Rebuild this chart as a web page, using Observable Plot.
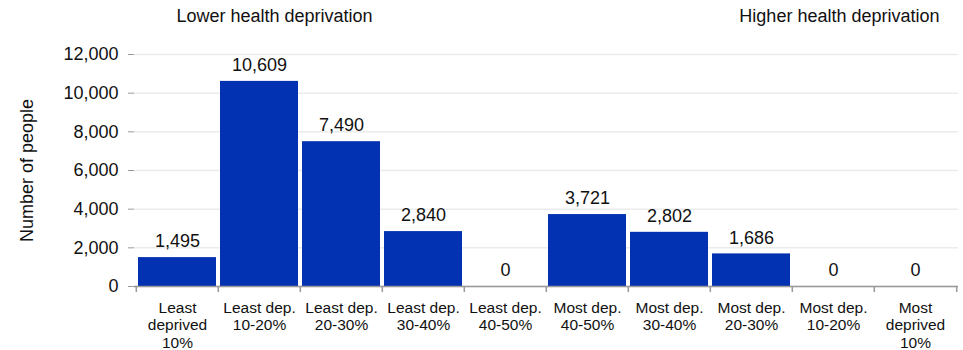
<!DOCTYPE html>
<html>
<head>
<meta charset="utf-8">
<script src="https://cdn.jsdelivr.net/npm/d3@7"></script>
<script src="https://cdn.jsdelivr.net/npm/@observablehq/plot@0.6"></script>
<style>
  body { margin: 0; background: #fff; }
  #chart svg { display: block; }
</style>
</head>
<body>
<div id="chart"></div>
<script>
const categories = [
  "Least deprived 10%", "Least dep. 10-20%", "Least dep. 20-30%", "Least dep. 30-40%", "Least dep. 40-50%",
  "Most dep. 40-50%", "Most dep. 30-40%", "Most dep. 20-30%", "Most dep. 10-20%", "Most deprived 10%"
];
const tickLabels = [
  "Least\ndeprived\n10%", "Least dep.\n10-20%", "Least dep.\n20-30%", "Least dep.\n30-40%", "Least dep.\n40-50%",
  "Most dep.\n40-50%", "Most dep.\n30-40%", "Most dep.\n20-30%", "Most dep.\n10-20%", "Most\ndeprived\n10%"
];
const values = [1495, 10609, 7490, 2840, 0, 3721, 2802, 1686, 0, 0];
const yTicks = [0, 2000, 4000, 6000, 8000, 10000, 12000];
const leftTitle = "Lower health deprivation";
const rightTitle = "Higher health deprivation";
const yLabel = "Number of people";

const data = categories.map((c, i) => ({cat: c, value: values[i], tick: tickLabels[i]}));
const tickOf = new Map(data.map(d => [d.cat, d.tick]));

const W = 963, H = 350, mL = 134, mR = 5, mT = 54, mB = 64;
const step = (W - mL - mR) / categories.length;
const fmt = d3.format(",");
const axisColor = "#999";
const ink = "#111";

const chart = Plot.plot({
  width: W, height: H,
  marginLeft: mL, marginRight: mR, marginTop: mT, marginBottom: mB,
  style: {fontFamily: "'Liberation Sans', Arial, sans-serif", fontSize: "18px", color: ink, background: "#fff"},
  x: {domain: categories, paddingInner: 0.05, paddingOuter: 0.025},
  y: {domain: [0, 12000]},
  marks: [
    Plot.gridY(yTicks, {stroke: "#ebebeb", strokeOpacity: 1, strokeWidth: 1.5}),
    Plot.barY(data, {x: "cat", y: "value", fill: "#0231b1"}),
    Plot.text(data, {x: "cat", y: "value", text: d => fmt(d.value), dy: -16, fontSize: 18, fill: ink}),
    Plot.ruleY([0], {stroke: axisColor, strokeWidth: 1.5}),
    Plot.ruleX(categories, {x: d => d, y1: 0, y2: 0, dx: -step / 2, stroke: axisColor, strokeWidth: 1.5, insetBottom: -6}),
    Plot.ruleX(categories.slice(-1), {x: d => d, y1: 0, y2: 0, dx: step / 2, stroke: axisColor, strokeWidth: 1.5, insetBottom: -6}),
    Plot.axisX({tickSize: 0, tickPadding: 14, tickFormat: d => tickOf.get(d), fontSize: 15.5, lineHeight: 1.13, label: null, fill: ink}),
    Plot.axisY(yTicks, {tickFormat: fmt, tickSize: 6, tickPadding: 10, fontSize: 18, stroke: axisColor, label: yLabel, labelAnchor: "center", labelArrow: "none", labelOffset: 114, fill: ink}),
    Plot.ruleX([0], {frameAnchor: "left", y1: 0, y2: 12000, stroke: axisColor, strokeWidth: 1.5}),
    Plot.text([leftTitle], {frameAnchor: "top-left", lineAnchor: "middle", dx: 42, dy: -38, textAnchor: "start", fontSize: 18, fill: ink}),
    Plot.text([rightTitle], {frameAnchor: "top-right", lineAnchor: "middle", dx: -19, dy: -38, textAnchor: "end", fontSize: 18, fill: ink})
  ]
});
document.getElementById("chart").appendChild(chart);
</script>
</body>
</html>
